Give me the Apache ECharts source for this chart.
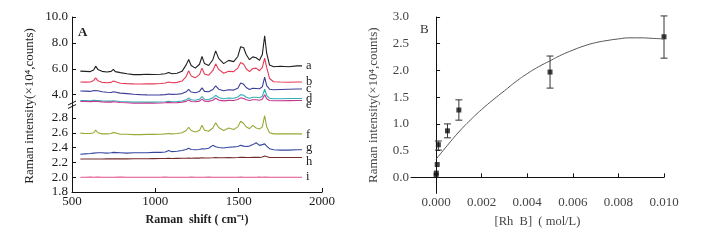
<!DOCTYPE html>
<html lang="en">
<head>
    <meta charset="UTF-8">
    <title>Raman</title>
    <script type="text/javascript" src="https://cdn.jsdelivr.net/npm/echarts@6/dist/echarts.min.js"></script>
</head>
<body style="margin:0;background:#fff">
<div id="main" style="width: 714px; height: 240px"></div>

<script type="text/javascript">
    var myChart = echarts.init(document.getElementById('main'));

    // A: Raman spectra, shared shift positions
    var shift = [550, 580, 610, 630, 642, 655, 680, 710, 735, 748, 760, 790, 830, 870, 910, 950, 990, 1030, 1060, 1080,
        1100, 1130, 1160, 1185, 1200, 1215, 1240, 1265, 1280, 1295, 1320, 1345, 1362, 1380, 1410, 1440, 1470, 1495, 1512, 1530,
        1545, 1565, 1585, 1605, 1625, 1642, 1656, 1668, 1685, 1710, 1750, 1800, 1850, 1880];

    var specA = [5.82, 5.80, 5.78, 5.90, 6.20, 5.95, 5.80, 5.75, 5.80, 5.95, 5.78, 5.70, 5.62, 5.55, 5.55, 5.58, 5.56, 5.58, 5.62, 5.72,
        5.62, 5.65, 5.80, 6.30, 6.72, 6.25, 6.05, 6.35, 6.95, 6.40, 6.25, 6.70, 7.38, 6.80, 6.40, 6.65, 6.55, 6.95, 7.70, 7.62,
        7.10, 6.70, 6.92, 6.85, 6.65, 7.10, 8.55, 7.20, 6.30, 6.15, 6.20, 6.15, 6.22, 6.22];
    var specB = [4.98, 4.97, 4.98, 5.10, 5.30, 5.08, 4.95, 4.92, 4.95, 5.05, 4.92, 4.88, 4.85, 4.83, 4.82, 4.84, 4.83, 4.86, 4.90, 4.98,
        4.92, 4.95, 5.05, 5.40, 5.85, 5.45, 5.30, 5.55, 6.05, 5.60, 5.50, 5.85, 6.38, 5.95, 5.65, 5.80, 5.78, 6.05, 6.48, 6.35,
        6.00, 5.78, 6.02, 6.05, 5.85, 6.10, 6.82, 6.10, 5.25, 5.00, 4.98, 4.96, 4.98, 4.98];
    var specC = [4.28, 4.27, 4.25, 4.32, 4.45, 4.30, 4.22, 4.18, 4.17, 4.22, 4.15, 4.12, 4.08, 4.03, 4.00, 3.98, 3.97, 3.98, 4.00, 4.05,
        4.02, 4.03, 4.08, 4.22, 4.40, 4.20, 4.15, 4.25, 4.52, 4.25, 4.22, 4.40, 4.68, 4.42, 4.30, 4.38, 4.35, 4.50, 4.90, 4.80,
        4.55, 4.40, 4.50, 4.48, 4.45, 4.60, 5.35, 4.70, 4.42, 4.38, 4.40, 4.42, 4.44, 4.44];
    var specD = [3.55, 3.54, 3.53, 3.56, 3.62, 3.55, 3.52, 3.50, 3.50, 3.53, 3.49, 3.47, 3.45, 3.42, 3.42, 3.43, 3.42, 3.43, 3.45, 3.48,
        3.45, 3.47, 3.50, 3.60, 3.75, 3.60, 3.57, 3.65, 3.85, 3.65, 3.62, 3.75, 3.95, 3.78, 3.68, 3.74, 3.72, 3.82, 4.00, 3.95,
        3.80, 3.72, 3.80, 3.80, 3.76, 3.88, 4.42, 3.95, 3.72, 3.68, 3.68, 3.70, 3.70, 3.70];
    var specE = [3.48, 3.47, 3.46, 3.48, 3.54, 3.47, 3.44, 3.42, 3.42, 3.45, 3.41, 3.39, 3.37, 3.34, 3.33, 3.35, 3.34, 3.35, 3.37, 3.40,
        3.37, 3.38, 3.41, 3.48, 3.58, 3.47, 3.45, 3.50, 3.65, 3.50, 3.48, 3.57, 3.72, 3.58, 3.52, 3.56, 3.55, 3.62, 3.75, 3.70,
        3.60, 3.55, 3.60, 3.60, 3.57, 3.65, 4.00, 3.68, 3.55, 3.53, 3.53, 3.54, 3.55, 3.55];
    var specF = [2.595, 2.59, 2.59, 2.60, 2.635, 2.60, 2.585, 2.585, 2.59, 2.605, 2.585, 2.58, 2.58, 2.575, 2.575, 2.578, 2.578, 2.58, 2.585, 2.59,
        2.585, 2.59, 2.60, 2.63, 2.675, 2.63, 2.61, 2.63, 2.70, 2.635, 2.62, 2.665, 2.735, 2.67, 2.63, 2.665, 2.645, 2.68, 2.755, 2.725,
        2.68, 2.655, 2.70, 2.665, 2.65, 2.68, 2.83, 2.68, 2.60, 2.585, 2.585, 2.585, 2.585, 2.585];
    var specG = [2.31, 2.315, 2.32, 2.325, 2.335, 2.33, 2.33, 2.325, 2.33, 2.335, 2.33, 2.33, 2.325, 2.33, 2.33, 2.33, 2.335, 2.335, 2.34, 2.36,
        2.345, 2.35, 2.36, 2.375, 2.39, 2.375, 2.37, 2.375, 2.385, 2.38, 2.39, 2.43, 2.41, 2.40, 2.395, 2.405, 2.41, 2.415, 2.43, 2.42,
        2.415, 2.42, 2.44, 2.465, 2.43, 2.44, 2.45, 2.42, 2.385, 2.37, 2.365, 2.365, 2.37, 2.37];
    var specH = [2.245, 2.245, 2.246, 2.246, 2.248, 2.246, 2.246, 2.247, 2.247, 2.249, 2.247, 2.248, 2.248, 2.249, 2.25, 2.25, 2.251, 2.252, 2.252, 2.254,
        2.253, 2.254, 2.255, 2.256, 2.26, 2.256, 2.257, 2.258, 2.262, 2.259, 2.26, 2.262, 2.265, 2.262, 2.262, 2.264, 2.263, 2.265, 2.268, 2.267,
        2.265, 2.265, 2.267, 2.268, 2.267, 2.272, 2.285, 2.272, 2.266, 2.265, 2.265, 2.266, 2.266, 2.266];
    var specI = [2.0, 2.0, 2.001, 2.0, 2.0, 2.001, 2.0, 1.999, 2.0, 2.0, 2.0, 2.001, 2.0, 2.0, 1.999, 2.0, 2.0, 2.0, 2.001, 2.0,
        2.0, 2.0, 1.999, 2.0, 2.0, 2.001, 2.0, 2.0, 2.0, 2.0, 2.001, 2.0, 2.0, 2.0, 1.999, 2.0, 2.0, 2.0, 2.001, 2.0,
        2.0, 2.0, 2.0, 2.0, 2.001, 2.0, 2.002, 2.0, 2.0, 2.0, 2.0, 2.0, 2.0, 2.0];

    var upperTicks = [4, 6, 8, 10];
    var lowerTicks = [1.8, 2.0, 2.2, 2.4, 2.6, 2.8];

    // B: concentration dependence
    var conc = [0.000001, 0.00001, 0.00005, 0.0001, 0.0005, 0.001, 0.005, 0.010];
    var intensity = [0.04, 0.08, 0.24, 0.61, 0.87, 1.26, 1.97, 2.63];
    var errLow = [null, null, null, 0.51, 0.74, 1.07, 1.67, 2.23];
    var errHigh = [null, null, null, 0.68, 1.00, 1.45, 2.27, 3.02];
    var fitX = [0, 0.0005, 0.001, 0.0015, 0.002, 0.0025, 0.003, 0.0035, 0.004, 0.0045, 0.005,
        0.0055, 0.006, 0.0065, 0.007, 0.0075, 0.008, 0.0085, 0.009, 0.0095, 0.010];
    var fitY = [0.34, 0.60, 0.85, 1.07, 1.27, 1.45, 1.62, 1.79, 1.94, 2.07, 2.18,
        2.29, 2.38, 2.46, 2.52, 2.56, 2.59, 2.61, 2.61, 2.60, 2.59];
    var bYTicks = [0, 0.5, 1.0, 1.5, 2.0, 2.5, 3.0];
    var bXTicks = [0, 0.002, 0.004, 0.006, 0.008, 0.010];

    var serif = 'Liberation Serif';

    function pair(xs, ys) {
        var out = [];
        for (var i = 0; i < xs.length; i++) out.push([xs[i], ys[i]]);
        return out;
    }

    var spectra = [
        {name: 'a', data: specA, color: '#1f1f1f', axis: 0, dy: 0},
        {name: 'b', data: specB, color: '#e63a55', axis: 0, dy: 0},
        {name: 'c', data: specC, color: '#3c3f98', axis: 0, dy: 0},
        {name: 'd', data: specD, color: '#35aeb8', axis: 0, dy: 0},
        {name: 'e', data: specE, color: '#c8378e', axis: 0, dy: 4},
        {name: 'f', data: specF, color: '#9aa836', axis: 1, dy: 1},
        {name: 'g', data: specG, color: '#3447a0', axis: 1, dy: -2},
        {name: 'h', data: specH, color: '#742b2b', axis: 1, dy: 4},
        {name: 'i', data: specI, color: '#e2508a', axis: 1, dy: 0}
    ];

    var series = [];
    spectra.forEach(function (s) {
        series.push({
            name: s.name,
            type: 'line',
            xAxisIndex: s.axis,
            yAxisIndex: s.axis,
            data: pair(shift, s.data),
            showSymbol: false,
            lineStyle: {color: s.color, width: 1.1},
            itemStyle: {color: s.color},
            endLabel: {
                show: true,
                formatter: '{a}',
                color: '#222',
                fontFamily: serif,
                fontSize: 12.5,
                distance: 4,
                offset: [0, s.dy]
            },
            animation: false
        });
    });

    var errData = [];
    for (var i = 0; i < conc.length; i++) {
        if (errLow[i] != null) errData.push([conc[i], errLow[i], errHigh[i]]);
    }

    series.push({
        type: 'custom',
        xAxisIndex: 2,
        yAxisIndex: 2,
        data: errData,
        encode: {x: 0, y: [1, 2]},
        renderItem: function (params, api) {
            var x = api.value(0);
            var lo = api.coord([x, api.value(1)]);
            var hi = api.coord([x, api.value(2)]);
            var w = 3.5;
            var st = {stroke: '#333', lineWidth: 1};
            return {
                type: 'group',
                children: [
                    {type: 'line', shape: {x1: lo[0], y1: lo[1], x2: hi[0], y2: hi[1]}, style: st},
                    {type: 'line', shape: {x1: lo[0] - w, y1: lo[1], x2: lo[0] + w, y2: lo[1]}, style: st},
                    {type: 'line', shape: {x1: hi[0] - w, y1: hi[1], x2: hi[0] + w, y2: hi[1]}, style: st}
                ]
            };
        },
        animation: false
    });
    series.push({
        type: 'line',
        xAxisIndex: 2,
        yAxisIndex: 2,
        data: pair(fitX, fitY),
        smooth: true,
        showSymbol: false,
        lineStyle: {color: '#555', width: 1},
        animation: false
    });
    series.push({
        type: 'scatter',
        xAxisIndex: 2,
        yAxisIndex: 2,
        data: pair(conc, intensity),
        symbol: 'rect',
        symbolSize: 5,
        itemStyle: {color: '#111'},
        animation: false
    });

    var axisLine = {lineStyle: {color: '#111', width: 1}};
    var tickIn = {inside: true, length: 4, lineStyle: {color: '#111'}};

    option = {
        grid: [
            {left: 72, top: 17, width: 250, height: 88},
            {left: 72, top: 105, width: 250, height: 87},
            {left: 411, top: 17, width: 253, height: 176.4}
        ],
        xAxis: [
            {gridIndex: 0, type: 'value', min: 500, max: 2000, show: false},
            {
                gridIndex: 1, type: 'value', min: 500, max: 2000, interval: 500,
                axisLine: axisLine, axisTick: tickIn, splitLine: {show: false},
                axisLabel: {
                    fontFamily: serif, fontSize: 13, color: '#1a1a1a', margin: 3,
                    formatter: function (v) { return String(v); }
                },
                name: 'Raman  shift ( cm⁻¹)', nameLocation: 'middle', nameGap: 22,
                nameTextStyle: {fontFamily: serif, fontSize: 12, fontWeight: 'bold', color: '#222'}
            },
            {
                gridIndex: 2, type: 'value', min: -0.0011, max: 0.010,
                axisLine: axisLine, splitLine: {show: false},
                axisTick: {inside: true, length: 4, lineStyle: {color: '#111'}, customValues: bXTicks},
                axisLabel: {
                    fontFamily: serif, fontSize: 13, color: '#444', margin: 3, customValues: bXTicks,
                    formatter: function (v) { return v.toFixed(3); }
                },
                name: '[Rh  B]  ( mol/L)', nameLocation: 'middle', nameGap: 22,
                nameTextStyle: {fontFamily: serif, fontSize: 12.5, color: '#444'}
            }
        ],
        yAxis: [
            {
                gridIndex: 0, type: 'value', min: 3.2, max: 10,
                axisLine: axisLine, splitLine: {show: false},
                axisTick: {inside: true, length: 4, lineStyle: {color: '#111'}, customValues: upperTicks},
                axisLabel: {
                    fontFamily: serif, fontSize: 13, color: '#1a1a1a', margin: 4, customValues: upperTicks,
                    formatter: function (v) { return v.toFixed(1); }
                }
            },
            {
                gridIndex: 1, type: 'value', min: 1.8, max: 2.975,
                axisLine: axisLine, splitLine: {show: false},
                axisTick: {inside: true, length: 4, lineStyle: {color: '#111'}, customValues: lowerTicks},
                axisLabel: {
                    fontFamily: serif, fontSize: 13, color: '#1a1a1a', margin: 4, customValues: lowerTicks,
                    formatter: function (v) { return v.toFixed(1); }
                }
            },
            {
                gridIndex: 2, type: 'value', min: -0.3, max: 3.0,
                axisLine: axisLine, splitLine: {show: false},
                axisTick: {inside: true, length: 4, lineStyle: {color: '#111'}, customValues: bYTicks},
                axisLabel: {
                    fontFamily: serif, fontSize: 13, color: '#444', margin: 2, customValues: bYTicks,
                    formatter: function (v) { return v.toFixed(1); }
                },
                name: 'Raman intensity(×10⁴,counts)', nameLocation: 'middle', nameGap: 31,
                nameTextStyle: {fontFamily: serif, fontSize: 13, color: '#444'}
            }
        ],
        graphic: [
            {type: 'text', left: 78, top: 26, style: {text: 'A', font: 'bold 13px "Liberation Serif"', fill: '#222'}},
            {type: 'text', left: 420, top: 23, style: {text: 'B', font: '13px "Liberation Serif"', fill: '#333'}},
            {
                type: 'text', x: 30, y: 106, rotation: Math.PI / 2,
                style: {text: 'Raman intensity(×10⁴,counts)', font: '13px "Liberation Serif"', fill: '#222',
                    align: 'center', verticalAlign: 'middle'}
            },
            {type: 'rect', shape: {x: 70, y: 103, width: 4, height: 4}, style: {fill: '#fff'}},
            {type: 'line', shape: {x1: 68, y1: 105, x2: 76, y2: 101}, style: {stroke: '#111', lineWidth: 1}},
            {type: 'line', shape: {x1: 68, y1: 108.5, x2: 76, y2: 104.5}, style: {stroke: '#111', lineWidth: 1}}
        ],
        series: series
    };

    myChart.setOption(option);
</script>
</body>
</html>
